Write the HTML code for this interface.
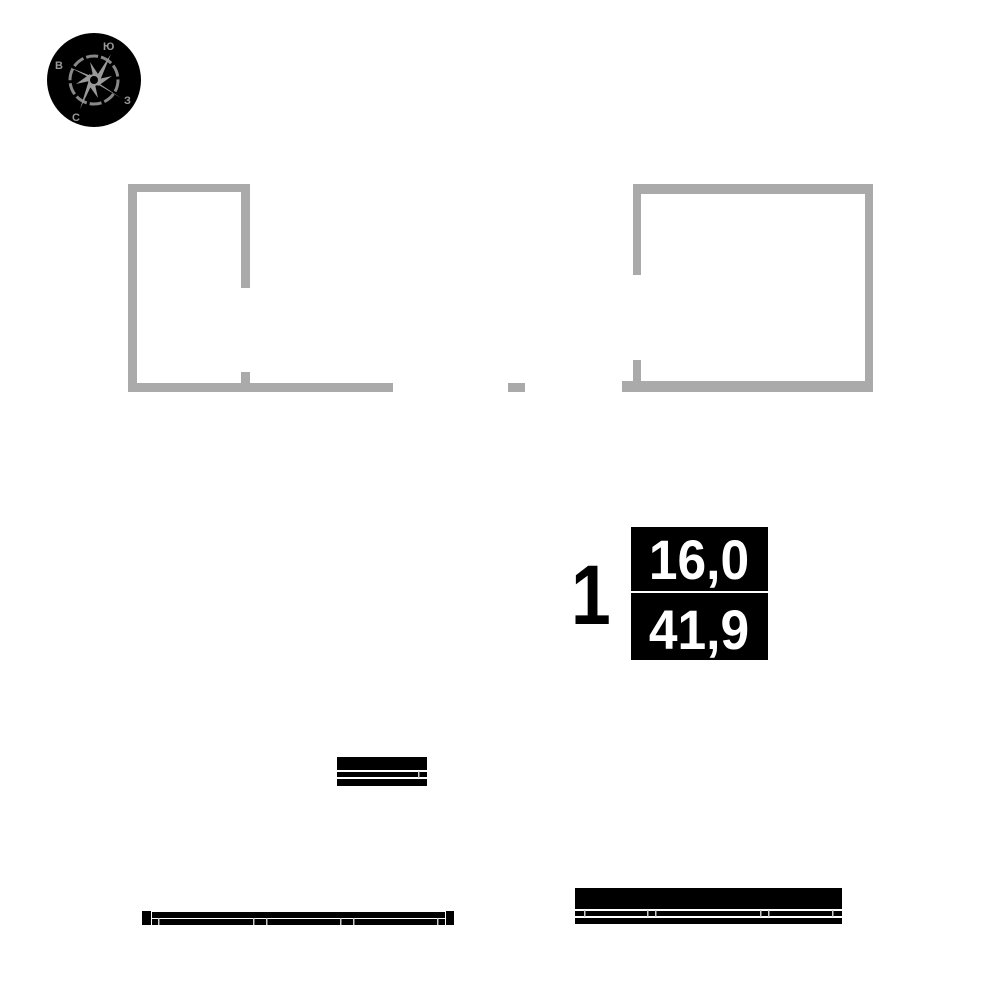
<!DOCTYPE html>
<html><head><meta charset="utf-8"><style>
html,body{margin:0;padding:0;background:#fff;width:1000px;height:1000px;overflow:hidden}
svg{display:block}
text{font-family:"Liberation Sans","DejaVu Sans",sans-serif;font-weight:bold}
</style></head><body>
<svg width="1000" height="1000" viewBox="0 0 1000 1000">
<!-- compass -->
<circle cx="94" cy="80" r="47" fill="#000"/>
<circle cx="94" cy="80" r="24" fill="none" stroke="#888" stroke-width="3" stroke-dasharray="12 3"/>
<g fill="#999">
<polygon points="94,80 111,54 99,83"/>
<polygon points="94,80 69,67 91,76"/>
<polygon points="94,80 121,98 97,84"/>
<polygon points="94,80 80,109 89,80"/>
<polygon points="94,80 90,62 100,77"/>
<polygon points="94,80 112,76 98,86"/>
<polygon points="94,80 98,98 88,84"/>
<polygon points="94,80 76,84 90,74"/>
</g>
<circle cx="94" cy="80" r="5" fill="#000" stroke="#999" stroke-width="2"/>
<g fill="#999" font-size="11">
<text x="103" y="50">Ю</text>
<text x="55" y="69">В</text>
<text x="124" y="104">З</text>
<text x="72" y="121">С</text>
</g>
<!-- left room -->
<g fill="#aaa">
<rect x="128" y="184" width="122" height="8"/>
<rect x="128" y="184" width="9" height="208"/>
<rect x="241" y="184" width="9" height="104"/>
<rect x="241" y="372" width="9" height="20"/>
<rect x="128" y="383" width="265" height="9"/>
<rect x="508" y="383" width="17" height="9"/>
<rect x="633" y="184" width="240" height="10"/>
<rect x="633" y="184" width="8" height="91"/>
<rect x="633" y="360" width="8" height="32"/>
<rect x="865" y="184" width="8" height="208"/>
<rect x="622" y="381" width="251" height="11"/>
</g>
<!-- label -->
<text x="0" y="0" font-size="84" transform="translate(571,624) scale(0.85,1)">1</text>
<rect x="631" y="527" width="137" height="64" fill="#000"/>
<rect x="631" y="593" width="137" height="67" fill="#000"/>
<text font-size="56" fill="#fff" text-anchor="middle" transform="translate(699,579) scale(0.92,1)">16,0</text>
<text font-size="56" fill="#fff" text-anchor="middle" transform="translate(699,649) scale(0.92,1)">41,9</text>
<!-- small bar -->
<rect x="337" y="757" width="90" height="13" fill="#000"/>
<rect x="337" y="772" width="90" height="5" fill="#000"/>
<rect x="418" y="771" width="1.5" height="7" fill="#ccc"/>
<rect x="337" y="779" width="90" height="7" fill="#000"/>
<!-- bottom-left bar -->
<rect x="142" y="911" width="9" height="14" fill="#000"/>
<rect x="446" y="911" width="8" height="14" fill="#000"/>
<rect x="152" y="912" width="293" height="6" fill="#000"/>
<rect x="152" y="919" width="293" height="6" fill="#000"/>
<g fill="#ccc">
<rect x="158" y="918" width="1.5" height="7"/><rect x="253" y="918" width="1.5" height="7"/><rect x="266" y="918" width="1.5" height="7"/><rect x="340" y="918" width="1.5" height="7"/><rect x="353" y="918" width="1.5" height="7"/><rect x="437" y="918" width="1.5" height="7"/>
</g>
<!-- bottom-right bar -->
<rect x="575" y="888" width="267" height="21" fill="#000"/>
<rect x="575" y="911" width="267" height="5" fill="#000"/>
<rect x="575" y="918" width="267" height="6" fill="#000"/>
<g fill="#ccc">
<rect x="584" y="910" width="1.5" height="7"/><rect x="647" y="910" width="1.5" height="7"/><rect x="655" y="910" width="1.5" height="7"/><rect x="760" y="910" width="1.5" height="7"/><rect x="768" y="910" width="1.5" height="7"/><rect x="832" y="910" width="1.5" height="7"/>
</g>
</svg>
</body></html>
